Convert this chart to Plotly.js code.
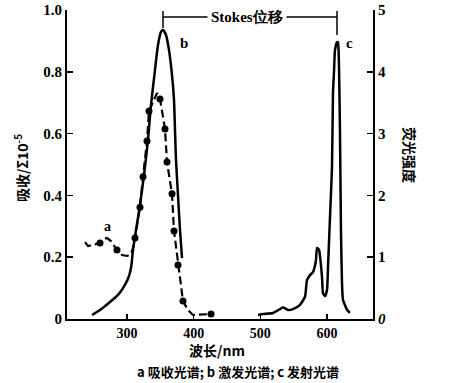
<!DOCTYPE html>
<html><head><meta charset="utf-8">
<script src="https://cdn.plot.ly/plotly-3.0.1.min.js"></script>
<style>html,body{margin:0;padding:0;background:#fff;}</style>
</head><body>
<div id="chart" style="width:449px;height:383px;"></div>
<script>
// a: absorption (left axis, dashed with dots)
const aX = [237, 241.5, 247.5, 259.5, 265.5, 270, 276, 285, 292.5, 300, 306, 309, 312, 319.5, 324, 330, 333, 345, 349.5, 354, 357, 360, 367.5, 370.5, 376.5, 384, 391.5, 399, 426];
const aY = [0.249, 0.236, 0.239, 0.246, 0.259, 0.262, 0.252, 0.223, 0.207, 0.204, 0.21, 0.23, 0.262, 0.362, 0.46, 0.576, 0.673, 0.731, 0.712, 0.66, 0.615, 0.508, 0.405, 0.285, 0.175, 0.058, 0.029, 0.013, 0.016];
const aDotX = [259.5, 285, 312, 319.5, 324, 330, 333, 349.5, 357, 360, 367.5, 370.5, 376.5, 384, 426];
const aDotY = [0.246, 0.223, 0.262, 0.362, 0.46, 0.576, 0.673, 0.712, 0.615, 0.508, 0.405, 0.285, 0.175, 0.058, 0.016];
// b: excitation (right axis)
const bX = [247.5, 259.5, 274.5, 286.5, 294, 301.5, 306, 309, 313.5, 319.5, 325.5, 331.5, 336, 342, 346.5, 351, 354, 358.5, 363, 367.5, 370.5, 372, 373.5, 376.5, 379.5, 382.5];
const bY = [0.065, 0.145, 0.275, 0.39, 0.5, 0.65, 0.825, 1.115, 1.44, 1.845, 2.33, 2.9, 3.465, 4.03, 4.435, 4.645, 4.675, 4.595, 4.35, 3.95, 3.545, 3.06, 2.575, 2.0, 1.44, 0.985];
// c: emission (right axis)
const cX = [496.5, 504, 519, 529.5, 534, 541.5, 549, 559.5, 567, 570, 574.5, 579, 583.5, 585, 588, 592.5, 594, 597, 600, 601.5, 604.5, 607.5, 609, 610.5, 612, 615, 616.5, 618, 619.5, 621, 622.5, 624, 630, 634.5];
const cY = [0.065, 0.08, 0.097, 0.16, 0.19, 0.146, 0.16, 0.23, 0.36, 0.63, 0.71, 0.76, 0.955, 1.15, 1.12, 0.68, 0.42, 0.37, 0.47, 0.84, 1.65, 2.46, 3.66, 4.0, 4.35, 4.48, 4.47, 4.08, 3.0, 1.39, 0.58, 0.31, 0.15, 0.1];

const xTicks = [300, 400, 500, 600];
const yTicks = [0, 0.2, 0.4, 0.6, 0.8, 1.0];
const yTickText = ['0', '0.2', '0.4', '0.6', '0.8', '1.0'];
const y2Ticks = [0, 1, 2, 3, 4, 5];
const y2TickText = ['<i>0</i>', '1', '2', '3', '4', '5'];

const bPeak = bX[bY.indexOf(Math.max(...bY))];
const cPeak = cX[cY.indexOf(Math.max(...cY))];

const serif = 'Liberation Serif, Times New Roman, serif';
const cjk = 'Noto Sans CJK SC, sans-serif';

const traces = [
  {x: aX, y: aY, mode: 'lines', line: {color: '#000', width: 2.2, dash: '8px,4px'}, yaxis: 'y', hoverinfo: 'none'},
  {x: aDotX, y: aDotY, mode: 'markers', marker: {color: '#000', size: 7}, yaxis: 'y', hoverinfo: 'none'},
  {x: bX, y: bY, mode: 'lines', line: {color: '#000', width: 2.5, shape: 'spline', smoothing: 0.6}, yaxis: 'y2', hoverinfo: 'none'},
  {x: cX, y: cY, mode: 'lines', line: {color: '#000', width: 2.5, shape: 'spline', smoothing: 0.5}, yaxis: 'y2', hoverinfo: 'none'}
];

const P = (px) => (px - 67) / 306;
const Q = (py) => (319 - py) / 309;
const ann = (px, py, text, font, extra) => Object.assign({xref: 'paper', yref: 'paper', x: P(px), y: Q(py), text: text,
  showarrow: false, xanchor: 'center', yanchor: 'middle', font: font}, extra || {});

const layout = {
  width: 449, height: 383,
  margin: {l: 67, r: 76, t: 10, b: 64},
  paper_bgcolor: '#fff', plot_bgcolor: '#fff',
  showlegend: false,
  font: {family: serif, color: '#000', size: 14},
  xaxis: {range: [210, 669], tickvals: xTicks, ticktext: xTicks.map(String), showgrid: false, zeroline: false,
    showline: true, linecolor: '#000', linewidth: 2, ticks: 'inside', ticklen: 5, tickwidth: 1.5, tickcolor: '#000',
    tickfont: {family: serif, size: 14, weight: 'bold'}},
  yaxis: {range: [0, 1], tickvals: yTicks, ticktext: yTickText, showgrid: false, zeroline: false,
    showline: true, linecolor: '#000', linewidth: 2, ticks: 'inside', ticklen: 6, tickwidth: 1.5, tickcolor: '#000',
    tickfont: {family: serif, size: 15, weight: 'bold'}},
  yaxis2: {range: [0, 5], overlaying: 'y', side: 'right', tickvals: y2Ticks, ticktext: y2TickText, showgrid: false, zeroline: false,
    showline: true, linecolor: '#000', linewidth: 2, ticks: 'inside', ticklen: 6, tickwidth: 1.5, tickcolor: '#000',
    tickfont: {family: serif, size: 15, weight: 'bold'}},
  shapes: [
    {type: 'line', xref: 'x', yref: 'paper', x0: bPeak, x1: cPeak, y0: Q(17), y1: Q(17), line: {color: '#000', width: 1.5}},
    {type: 'line', xref: 'x', yref: 'paper', x0: bPeak, x1: bPeak, y0: Q(11), y1: Q(28), line: {color: '#000', width: 1.5}},
    {type: 'line', xref: 'x', yref: 'paper', x0: cPeak, x1: cPeak, y0: Q(11), y1: Q(35), line: {color: '#000', width: 1.5}}
  ],
  annotations: [
    ann(247, 17, 'Stokes位移', {family: serif, size: 15, weight: 'bold'}, {bgcolor: '#fff', borderpad: 3}),
    ann(107, 226, 'a', {family: serif, size: 14, weight: 'bold'}),
    ann(184, 43, 'b', {family: serif, size: 15, weight: 'bold'}),
    ann(349, 43, 'c', {family: serif, size: 15, weight: 'bold'}),
    ann(22, 168, '吸收/Σ10<sup>-5</sup>', {family: cjk, size: 14, weight: 'bold'}, {textangle: -90}),
    ann(410, 155, '荧光强度', {family: cjk, size: 14, weight: 'bold'}, {textangle: 90}),
    ann(217, 350, '波长/nm', {family: cjk, size: 14, weight: 'bold'}),
    ann(238, 371, 'a 吸收光谱; b 激发光谱; c 发射光谱', {family: cjk, size: 13, weight: 'bold'})
  ]
};

Plotly.newPlot('chart', traces, layout, {displayModeBar: false, staticPlot: true});
</script>
</body></html>
